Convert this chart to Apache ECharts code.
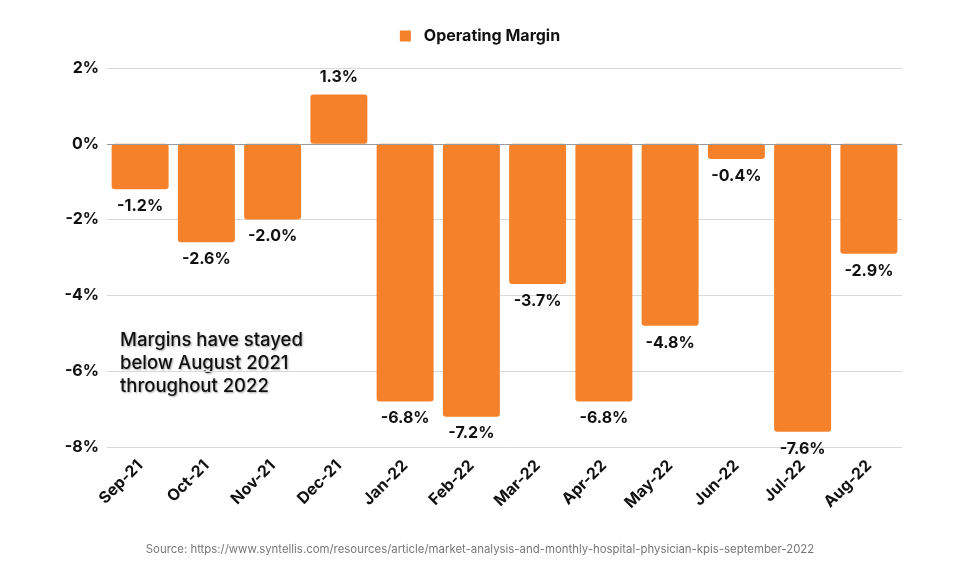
<!DOCTYPE html>
<html>
<head>
    <meta charset="utf-8">
    <title>Operating Margin</title>
    <script src="https://cdn.jsdelivr.net/npm/echarts@6/dist/echarts.min.js"></script>
    <style>
        body { margin: 0; background: #fff; }
        #main { width: 960px; height: 576px; }
    </style>
</head>
<body>
    <div id="main"></div>
    <script>
        // data
        var months = ['Sep-21', 'Oct-21', 'Nov-21', 'Dec-21', 'Jan-22', 'Feb-22',
                      'Mar-22', 'Apr-22', 'May-22', 'Jun-22', 'Jul-22', 'Aug-22'];
        var margin = [-1.2, -2.6, -2.0, 1.3, -6.8, -7.2, -3.7, -6.8, -4.8, -0.4, -7.6, -2.9];
        var seriesName = 'Operating Margin';
        var note = 'Margins have stayed\nbelow August 2021\nthroughout 2022';
        var source = 'Source: https://www.syntellis.com/resources/article/market-analysis-and-monthly-hospital-physician-kpis-september-2022';

        var fontName = 'Inter, Lato, sans-serif';
        var orange = '#F5822A';

        var myChart = echarts.init(document.getElementById('main'));
        myChart.setOption({
            animation: false,
            textStyle: { fontFamily: fontName },
            legend: {
                top: 23,
                left: 'center',
                itemWidth: 11,
                itemHeight: 11,
                icon: 'rect',
                textStyle: { fontSize: 16, fontWeight: 'bold', color: '#111', padding: [0, 0, 0, 8] },
                data: [seriesName]
            },
            grid: { left: 107, right: 58, top: 68, bottom: 129, containLabel: false },
            xAxis: {
                type: 'category',
                data: months,
                position: 'bottom',
                axisLine: { show: false },
                axisTick: { show: false },
                axisLabel: {
                    rotate: 45,
                    margin: 16,
                    fontSize: 16,
                    fontWeight: 'bold',
                    color: '#111',
                    interval: 0
                }
            },
            yAxis: {
                type: 'value',
                min: -8,
                max: 2,
                interval: 2,
                axisLabel: {
                    formatter: '{value}%',
                    fontSize: 16,
                    fontWeight: 'bold',
                    color: '#111',
                    margin: 8
                },
                splitLine: { lineStyle: { color: '#d9d9d9', width: 1 } }
            },
            series: [{
                name: seriesName,
                type: 'bar',
                data: margin,
                barCategoryGap: '14%',
                itemStyle: {
                    color: orange,
                    borderRadius: 3
                },
                label: {
                    show: true,
                    position: 'outside',
                    distance: 9,
                    formatter: function(p) { return p.value.toFixed(1) + '%'; },
                    fontSize: 16,
                    fontWeight: 'bold',
                    color: '#111'
                },
                markLine: {
                    silent: true,
                    symbol: 'none',
                    label: { show: false },
                    lineStyle: { color: '#9a9a9a', type: 'solid', width: 1 },
                    data: [{ yAxis: 0 }]
                }
            }],
            graphic: [{
                type: 'text',
                left: 120,
                top: 329,
                style: {
                    text: note,
                    fontSize: 18.5,
                    lineHeight: 23,
                    fontFamily: fontName,
                    fontWeight: 500,
                    fill: '#111',
                    textShadowColor: 'rgba(0,0,0,0.35)',
                    textShadowBlur: 2,
                    textShadowOffsetX: 1,
                    textShadowOffsetY: 1
                }
            }, {
                type: 'text',
                left: 'center',
                top: 544,
                style: {
                    text: source,
                    fontSize: 11.4,
                    fontFamily: fontName,
                    fill: '#777'
                }
            }]
        });
    </script>
</body>
</html>
